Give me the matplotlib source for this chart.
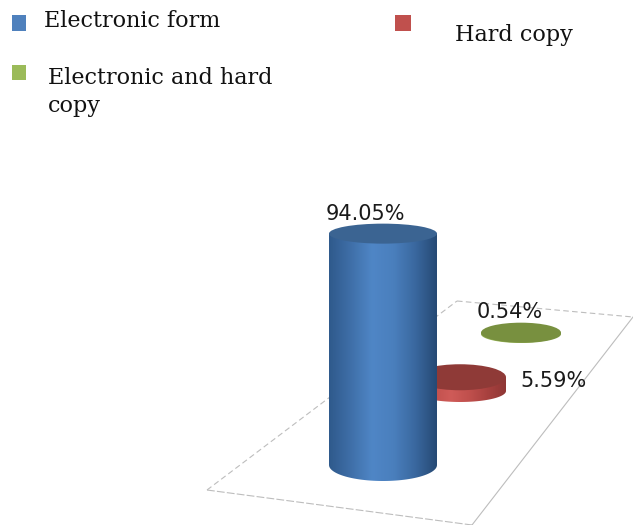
import matplotlib

matplotlib.use("Agg")

import matplotlib.pyplot as plt
import numpy as np
from matplotlib.colors import LinearSegmentedColormap
from matplotlib.patches import Ellipse, PathPatch, Rectangle
from matplotlib.path import Path

categories = ["Electronic form", "Hard copy", "Electronic and hard\ncopy"]
values = [94.05, 5.59, 0.54]
value_labels = ["94.05%", "5.59%", "0.54%"]
legend_colors = ["#4f81bd", "#c0504d", "#9bbb59"]

# pixels per percent, the picture is a fake 3D chart
PX_PER_PCT = 2.46

# base centre x, base centre y, rx, ry, top ellipse ry
bases = [(383, 465, 54, 16, 10), (460, 391, 46, 11, 13), (521, 334, 40, 9, 10)]
side_colors = [
    ["#2f5a8c", "#3f6fa8", "#4f86c6", "#4a7fbd", "#3a689f", "#264a75"],
    ["#a8413f", "#c0504d", "#cf5b58", "#c0504d", "#a8413f", "#8f3735"],
    ["#8aa64a", "#9bb85a", "#9bb85a", "#8aa64a", "#7a9440", "#7a9440"],
]
top_colors = ["#3b6492", "#8f3a37", "#78903f"]
label_pos = [(365, 214), (554, 381), (510, 312)]

fig = plt.figure(figsize=(6.33, 5.25), dpi=100)
ax = fig.add_axes([0, 0, 1, 1])
ax.set_xlim(0, 633)
ax.set_ylim(525, 0)
ax.axis("off")

# floor of the plot, back edges dashed
floor_color = "#bdbdbd"
ax.plot([207, 457], [490, 301], color=floor_color, lw=0.8, ls=(0, (5, 3)), zorder=1)
ax.plot([457, 633], [301, 317], color=floor_color, lw=0.8, ls=(0, (5, 3)), zorder=1)
ax.plot([633, 472], [317, 525], color=floor_color, lw=0.8, zorder=1)
ax.plot([207, 472], [490, 525], color=floor_color, lw=0.8, ls=(0, (7, 2)), zorder=1)


def draw_cylinder(base, value, colors, top_color, zorder):
    cx, cy, rx, ry, top_ry = base
    top_y = cy - value * PX_PER_PCT
    theta = np.linspace(0, np.pi, 60)
    xs = np.concatenate([[cx - rx], cx - rx * np.cos(theta), [cx + rx, cx - rx]])
    ys = np.concatenate([[top_y], cy + ry * np.sin(theta), [top_y, top_y]])
    clip = PathPatch(Path(np.column_stack([xs, ys])), fc="none", ec="none", zorder=zorder)
    ax.add_patch(clip)
    cmap = LinearSegmentedColormap.from_list("side", colors)
    grad = np.linspace(0, 1, 200).reshape(1, -1)
    img = ax.imshow(
        grad,
        cmap=cmap,
        extent=[cx - rx, cx + rx, cy + ry, top_y],
        aspect="auto",
        zorder=zorder,
    )
    img.set_clip_path(clip)
    ax.add_patch(Ellipse((cx, top_y), 2 * rx, 2 * top_ry, fc=top_color, ec="none", zorder=zorder + 0.1))


# draw back to front so the tall bar covers the red one
draw_cylinder(bases[2], values[2], side_colors[2], top_colors[2], 2)
draw_cylinder(bases[1], values[1], side_colors[1], top_colors[1], 3)
draw_cylinder(bases[0], values[0], side_colors[0], top_colors[0], 4)
ax.set_xlim(0, 633)
ax.set_ylim(525, 0)

for (x, y), text in zip(label_pos, value_labels):
    ax.text(x, y, text, ha="center", va="center", fontsize=15, color="#1a1a1a", zorder=6)

# hand placed legend, like in the source image
swatches = [(12, 15, 14, 16), (395, 15, 16, 16), (12, 65, 14, 15)]
text_pos = [(44, 21), (455, 35), (48, 92)]
for (x, y, w, h), color, (tx, ty), name in zip(swatches, legend_colors, text_pos, categories):
    ax.add_patch(Rectangle((x, y), w, h, fc=color, ec="none", zorder=5))
    ax.text(tx, ty, name, ha="left", va="center", fontsize=16, family="DejaVu Serif",
            color="#111111", linespacing=1.3, zorder=6)

fig.savefig("out.png", dpi=100)
plt.close(fig)
